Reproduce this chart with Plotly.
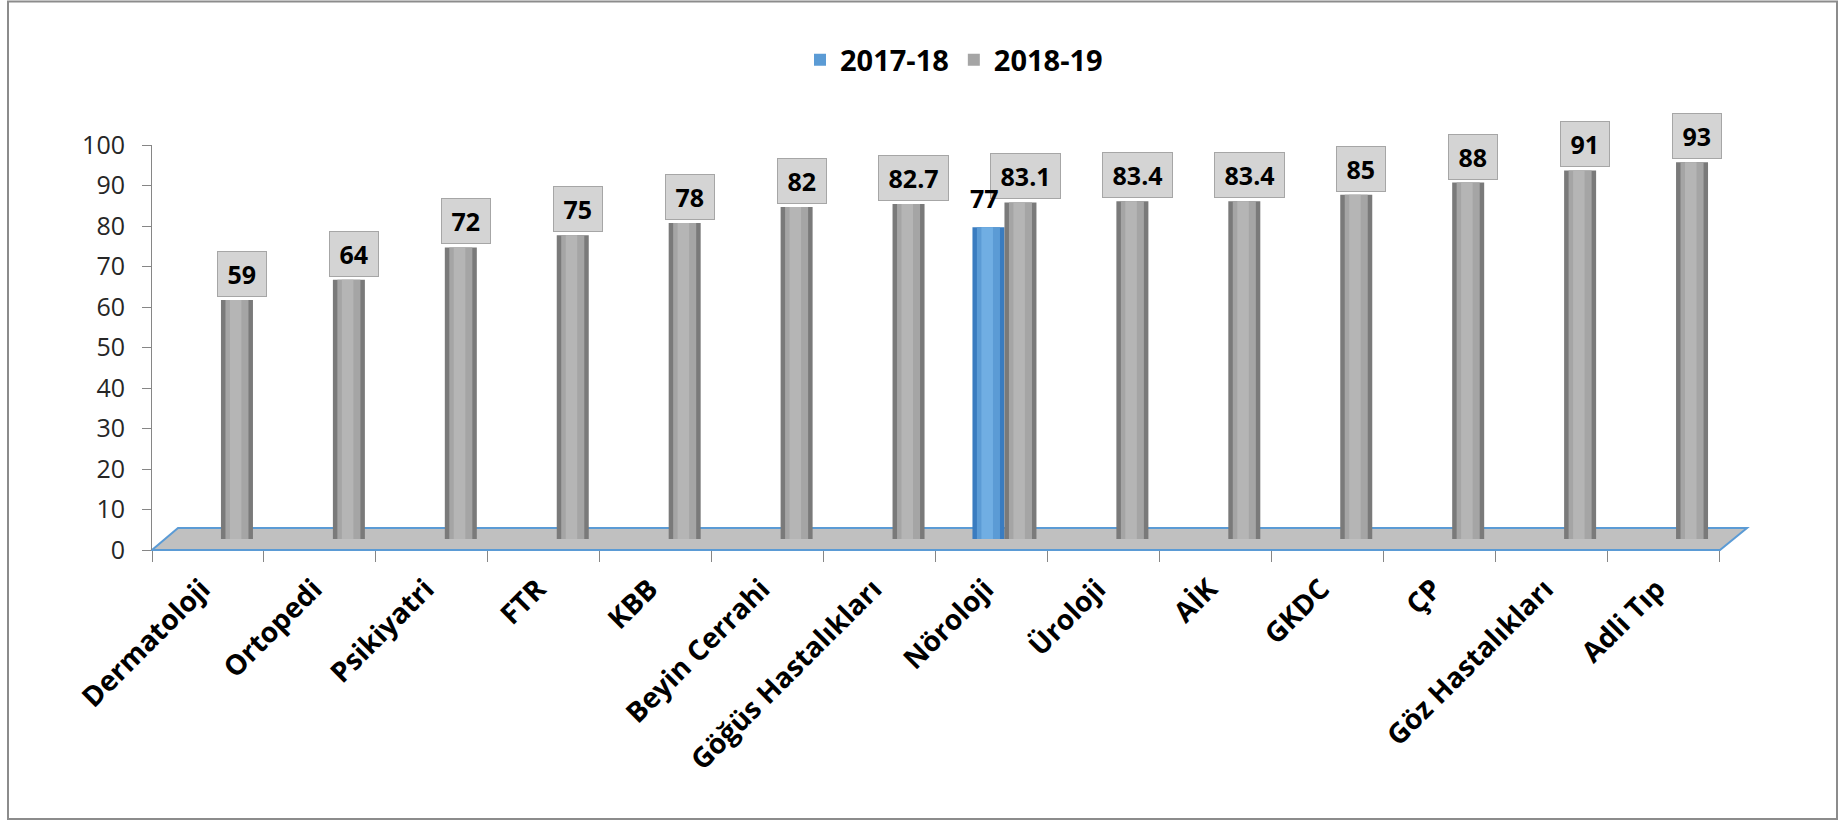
import plotly.graph_objects as go

# ---------------- data ----------------
categories = ["Dermatoloji", "Ortopedi", "Psikiyatri", "FTR", "KBB", "Beyin Cerrahi",
              "Göğüs Hastalıkları", "Nöroloji", "Üroloji", "AİK", "GKDC", "ÇP",
              "Göz Hastalıkları", "Adli Tıp"]
series_names = ["2017-18", "2018-19"]
values_2017_18 = [None, None, None, None, None, None, None, 77, None, None, None, None, None, None]
values_2018_19 = [59, 64, 72, 75, 78, 82, 82.7, 83.1, 83.4, 83.4, 85, 88, 91, 93]
y_ticks = [0, 10, 20, 30, 40, 50, 60, 70, 80, 90, 100]

# ---------------- geometry ----------------
W, H = 1841, 821
L, R, T, B = 152, 122, 145, 271
PW, PH = W - L - R, H - T - B
n = len(categories)
cat_px = PW / n
ypx = PH / 100.0

def px_x(px):
    return (px - L) / PW

def px_y(py):
    return (T + PH - py) / PH

# 3D depth shift of the bars (half of floor depth)
dx_px, dy_px = 13, 11
dx = dx_px / cat_px
dy = dy_px / ypx
bw = 32 / cat_px  # bar width in category units

fig = go.Figure()

# invisible trace so the category axis shows its labels
fig.add_trace(go.Scatter(x=categories, y=[0] * n, mode="markers",
                         marker=dict(opacity=0), showlegend=False,
                         hoverinfo="skip", xaxis="x", yaxis="y"))

def cylinder(vals, name, colors, offset):
    # base, mid, highlight layers to mimic a cylinder
    fracs = [1.0, 0.72, 0.36]
    for i, (c, f) in enumerate(zip(colors, fracs)):
        w = bw * f
        off = offset + (bw - w) / 2 - (0.04 * bw if i == 2 else 0)
        fig.add_trace(go.Bar(x=categories, y=vals, name=name, marker_color=c,
                             marker_line_width=0, width=w, offset=off,
                             showlegend=(i == 1), legendgroup=name,
                             xaxis="x2", yaxis="y2", hoverinfo="y"))

cylinder(values_2017_18, series_names[0], ["#3a7cc0", "#5b9bd5", "#70aee3"], -bw)
cylinder(values_2018_19, series_names[1], ["#7a7a7a", "#a5a5a5", "#b5b5b5"], 0)

LBL = 25
def text_w(s):
    return sum(0.29 * LBL if ch == "." else 0.572 * LBL for ch in s)

annotations = []
label_font = dict(family="Open Sans", size=LBL, color="#000000", weight="bold")
for c, v in zip(categories, values_2018_19):
    if v is None:
        continue
    s = f"{v:g}"
    annotations.append(dict(x=c, y=v, xref="x2", yref="y2", text=s,
                            showarrow=False, yanchor="bottom", xanchor="center",
                            xshift=16 + 5, yshift=3, font=label_font,
                            width=text_w(s) + 9,
                            bgcolor="#d4d4d4", bordercolor="#a6a6a6",
                            borderwidth=1, borderpad=5))
for c, v in zip(categories, values_2017_18):
    if v is None:
        continue
    annotations.append(dict(x=c, y=v, xref="x2", yref="y2", text=f"{v:g}",
                            showarrow=False, yanchor="bottom", xanchor="center",
                            xshift=-16 - 4, yshift=10, font=label_font))

shapes = [
    # floor
    dict(type="path", xref="paper", yref="paper", layer="below",
         path=(f"M {px_x(152)},{px_y(550)} L {px_x(1720)},{px_y(550)} "
               f"L {px_x(1747)},{px_y(528)} L {px_x(178)},{px_y(528)} Z"),
         fillcolor="#c0c0c0", line=dict(color="#5b9bd5", width=2)),
    # outer border
    dict(type="rect", xref="paper", yref="paper", layer="below",
         x0=px_x(8), x1=px_x(1837), y0=px_y(819), y1=px_y(1.5),
         line=dict(color="#8c8c8c", width=2), fillcolor="rgba(0,0,0,0)"),
]

fig.update_layout(
    width=W, height=H,
    margin=dict(l=L, r=R, t=T, b=B, autoexpand=False),
    paper_bgcolor="#ffffff", plot_bgcolor="rgba(0,0,0,0)",
    barmode="overlay",
    font=dict(family="Open Sans", color="#000000"),
    showlegend=True,
    legend=dict(orientation="h", x=px_x(954), xanchor="center",
                y=px_y(60), yanchor="middle",
                font=dict(family="Open Sans", size=29, color="#000000", weight="bold"),
                itemwidth=30, traceorder="normal", bgcolor="rgba(0,0,0,0)"),
    xaxis=dict(type="category", categoryorder="array", categoryarray=categories,
               range=[-0.5, n - 0.5], tickson="boundaries", ticks="outside",
               ticklen=11, tickcolor="#868686", tickwidth=1, showline=False,
               showgrid=False, zeroline=False, tickangle=-45,
               ticklabelstandoff=16, ticklabelshift=-6,
               tickfont=dict(family="Open Sans", size=28, color="#000000", weight="bold")),
    yaxis=dict(range=[0, 100], tickvals=y_ticks, showline=True, linecolor="#868686",
               linewidth=1, ticks="outside", ticklen=9, tickcolor="#868686",
               showgrid=False, zeroline=False, ticklabelstandoff=12,
               tickfont=dict(family="Open Sans", size=25, color="#262626")),
    xaxis2=dict(type="category", categoryorder="array", categoryarray=categories,
                range=[-0.5 - dx, n - 0.5 - dx], overlaying="x", visible=False),
    yaxis2=dict(range=[-dy, 100 - dy], overlaying="y", visible=False),
    annotations=annotations,
    shapes=shapes,
)

fig.write_html("out.html", config={"displayModeBar": False},
               post_script="document.body.style.margin='0';document.body.style.overflow='hidden';")
